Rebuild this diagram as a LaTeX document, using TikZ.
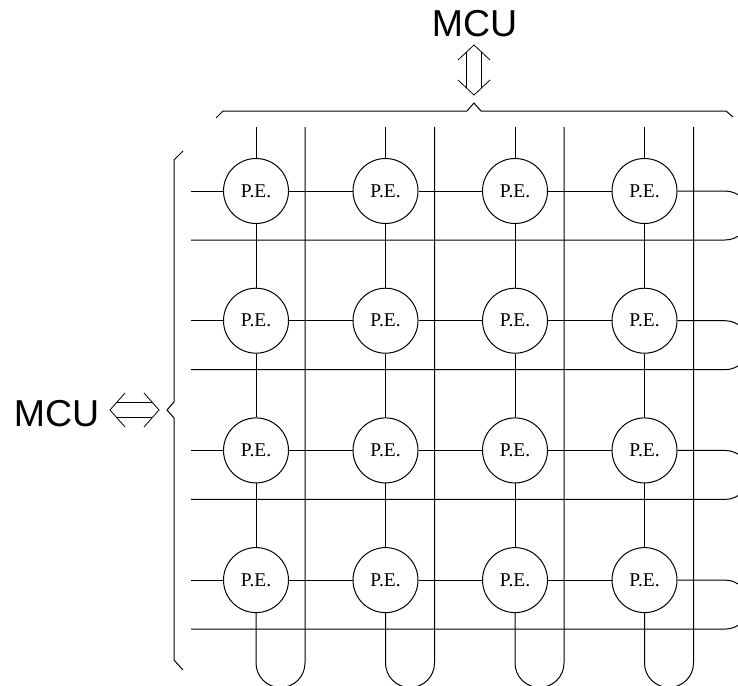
\documentclass[tikz,border=0pt]{standalone}
\usepackage{fontspec}
\setmainfont{Liberation Serif}
\newfontfamily\arialfont{Liberation Sans}
\begin{document}
\begin{tikzpicture}[x=1pt,y=1pt,line width=1pt,
  pe/.style={circle,draw,minimum size=65pt,inner sep=0pt,font=\fontsize{19.5}{19.5}\selectfont},
  mcu/.style={inner sep=0pt,font=\arialfont\fontsize{37.5}{37.5}\selectfont},
  wire/.style={draw,line width=1pt}]
\useasboundingbox (0,0) rectangle (738,-685);
% processing elements
\foreach \i in {1,...,4}{
  \foreach \j in {1,...,4}{
    \node[pe] (pe-\i-\j) at ({256+129.5*(\j-1)},{-(191+129.7*(\i-1))}) {P.E.};
  }
}
% row wires with right-hand loops
\foreach \i in {1,...,4}{
  \coordinate (rl-\i) at (191,{-(191+129.7*(\i-1))});
  \coordinate (rr-\i) at (725,{-(191+129.7*(\i-1))});
  \coordinate (bl-\i) at (191,{-(240+129.7*(\i-1))});
  \draw[wire] (rl-\i) -- (pe-\i-1.west);
  \draw[wire] (pe-\i-1.east) -- (pe-\i-2.west);
  \draw[wire] (pe-\i-2.east) -- (pe-\i-3.west);
  \draw[wire] (pe-\i-3.east) -- (pe-\i-4.west);
  \draw[wire] (pe-\i-4.east) -- (rr-\i) arc[start angle=90,end angle=-90,radius=24.5] -- (bl-\i);
}
% column wires with bottom loops
\foreach \j in {1,...,4}{
  \coordinate (ct-\j) at ({256+129.5*(\j-1)},-127);
  \coordinate (cb-\j) at ({256+129.5*(\j-1)},-663);
  \coordinate (rt-\j) at ({305+129.5*(\j-1)},-127);
  \draw[wire] (ct-\j) -- (pe-1-\j.north);
  \draw[wire] (pe-1-\j.south) -- (pe-2-\j.north);
  \draw[wire] (pe-2-\j.south) -- (pe-3-\j.north);
  \draw[wire] (pe-3-\j.south) -- (pe-4-\j.north);
  \draw[wire] (pe-4-\j.south) -- (cb-\j) arc[start angle=180,end angle=360,radius=24.5] -- (rt-\j);
}
% braces
\draw[wire] (216,-118) -- (223,-111) -- (467,-111) -- (474,-103) -- (481,-111) -- (726,-111) -- (733,-117);
\draw[wire] (183,-151) -- (174,-160) -- (174,-402) -- (167,-410) -- (174,-418) -- (174,-660) -- (183,-670);
% MCU labels
\node[mcu] (mcutop) at (474.5,-23.5) {MCU};
\node[mcu] (mculeft) at (56.5,-414) {MCU};
% double arrows
\draw[line width=0.8pt] (458,-60) -- (474,-45) -- (490,-60);
\draw[line width=0.8pt] (458,-80) -- (474,-95) -- (490,-80);
\draw[line width=0.8pt] (466.5,-52) -- (466.5,-88);
\draw[line width=0.8pt] (481.5,-52) -- (481.5,-88);
\draw[line width=0.8pt] (125,-393) -- (110,-410) -- (125,-427);
\draw[line width=0.8pt] (144,-393) -- (159,-410) -- (144,-427);
\draw[line width=0.8pt] (116.6,-402.5) -- (152.4,-402.5);
\draw[line width=0.8pt] (116.6,-417.5) -- (152.4,-417.5);
\end{tikzpicture}
\end{document}
